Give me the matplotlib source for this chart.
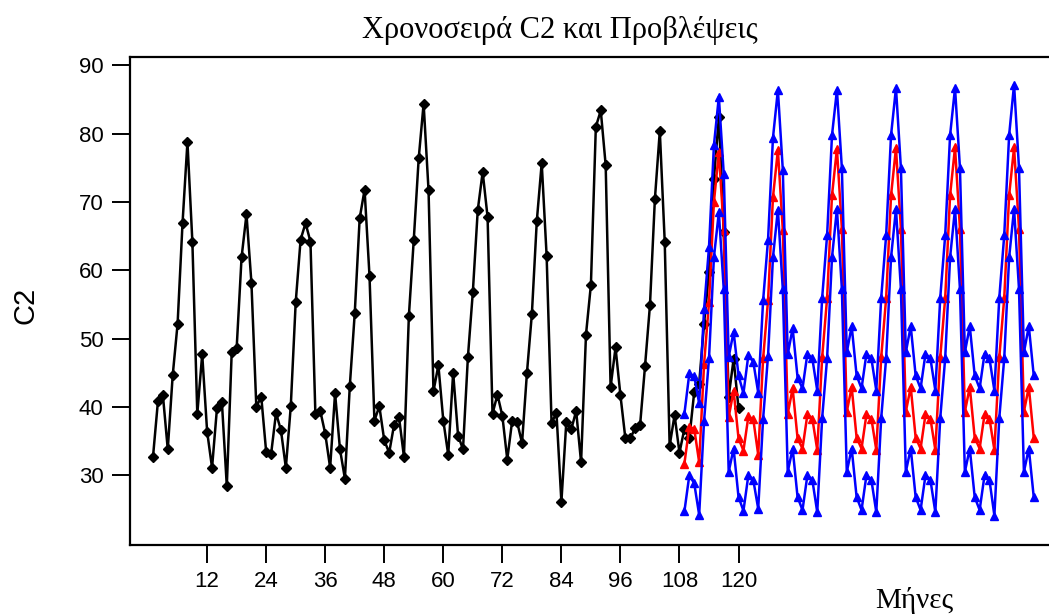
import matplotlib
matplotlib.use("Agg")
import matplotlib.pyplot as plt

# observed series C2, months 1..120
c2 = [32.7, 40.8, 41.8, 33.8, 44.6, 52.2, 66.9, 78.8, 64.2, 39.0, 47.7, 36.4,
      31.1, 39.8, 40.7, 28.4, 48.1, 48.6, 61.9, 68.2, 58.2, 40.0, 41.5, 33.4,
      33.1, 39.1, 36.6, 31.1, 40.1, 55.3, 64.5, 66.9, 64.2, 39.0, 39.4, 36.1,
      31.1, 42.0, 33.8, 29.5, 43.1, 53.7, 67.6, 71.8, 59.2, 38.0, 40.1, 35.1,
      33.3, 37.4, 38.5, 32.7, 53.3, 64.5, 76.4, 84.4, 71.7, 42.3, 46.1, 38.0,
      33.0, 45.0, 35.8, 33.8, 47.3, 56.8, 68.8, 74.4, 67.8, 39.0, 41.8, 38.7,
      32.3, 38.0, 37.8, 34.7, 45.0, 53.6, 67.2, 75.7, 62.1, 37.7, 39.1, 26.1,
      37.8, 36.7, 39.4, 31.9, 50.6, 57.9, 81.0, 83.4, 75.4, 42.9, 48.7, 41.7,
      35.4, 35.4, 36.9, 37.4, 46.0, 54.9, 70.4, 80.4, 64.2, 34.3, 38.8, 33.3,
      36.8, 35.4, 42.2, 43.4, 52.2, 59.8, 73.4, 82.4, 65.6, 41.5, 47.0, 39.8]
months = list(range(1, len(c2) + 1))

# forecasts with lower / upper limits, months 109..180
fc = [31.7, 37.1, 36.8, 31.9, 46.3, 55.3, 70.0, 77.3, 65.9, 38.5, 42.4, 35.4,
      33.6, 38.6, 38.2, 33.0, 47.1, 55.6, 70.7, 77.6, 65.9, 39.0, 42.7, 35.4,
      33.9, 38.9, 38.3, 33.7, 47.3, 55.9, 71.0, 77.8, 66.1, 39.3, 42.9, 35.5,
      33.9, 38.9, 38.3, 33.7, 47.3, 55.9, 71.0, 77.9, 66.1, 39.3, 42.9, 35.5,
      33.9, 38.9, 38.3, 33.7, 47.3, 55.9, 71.0, 78.0, 66.1, 39.3, 42.9, 35.5,
      33.9, 38.9, 38.3, 33.7, 47.3, 55.9, 71.0, 78.0, 66.1, 39.3, 42.9, 35.5]
upper = [39.0, 44.9, 44.5, 40.5, 54.3, 63.4, 78.3, 85.4, 74.1, 47.3, 51.0, 44.6,
         42.0, 47.6, 46.6, 42.1, 55.6, 64.5, 79.4, 86.4, 74.7, 47.7, 51.5, 44.3,
         42.7, 47.8, 47.1, 42.4, 56.0, 65.1, 79.8, 86.4, 75.0, 48.0, 51.8, 44.6,
         42.7, 47.8, 47.1, 42.4, 56.0, 65.1, 79.8, 86.7, 75.0, 48.0, 51.8, 44.6,
         42.7, 47.8, 47.1, 42.4, 56.0, 65.1, 79.8, 86.7, 75.0, 48.0, 51.8, 44.6,
         42.7, 47.8, 47.1, 42.4, 56.0, 65.1, 79.8, 87.2, 75.0, 48.0, 51.8, 44.6]
lower = [24.7, 30.0, 28.8, 24.2, 38.0, 47.1, 61.9, 68.5, 57.2, 30.5, 33.9, 26.8,
         24.8, 30.0, 29.3, 25.1, 38.3, 47.5, 61.9, 68.9, 57.2, 30.5, 33.9, 26.8,
         24.9, 30.0, 29.3, 24.6, 38.4, 47.1, 61.9, 69.0, 57.3, 30.5, 33.9, 26.8,
         24.9, 30.0, 29.3, 24.6, 38.4, 47.1, 61.9, 69.0, 57.3, 30.5, 33.9, 26.8,
         24.9, 30.0, 29.3, 24.6, 38.4, 47.1, 61.9, 69.0, 57.3, 30.5, 33.9, 26.8,
         24.9, 30.0, 29.3, 24.1, 38.4, 47.1, 61.9, 69.0, 57.3, 30.5, 33.9, 26.8]
fmonths = list(range(109, 109 + len(fc)))

xticks = [12, 24, 36, 48, 60, 72, 84, 96, 108, 120]
yticks = [30, 40, 50, 60, 70, 80, 90]

fig = plt.figure(figsize=(10.49, 6.15), dpi=100)
ax = fig.add_axes([0.124, 0.114, 0.876, 0.793])

ax.plot(months, c2, color='black', lw=1.8, marker='D', ms=4.8)
ax.plot(fmonths, fc, color='red', lw=1.8, marker='^', ms=6)
ax.plot(fmonths, upper, color='blue', lw=1.8, marker='^', ms=6)
ax.plot(fmonths, lower, color='blue', lw=1.8, marker='^', ms=6)

ax.set_xlim(-3.66, 183.1)
ax.set_ylim(19.8, 91.2)
ax.set_xticks(xticks)
ax.set_yticks(yticks)
ax.spines['right'].set_visible(False)
for s in ['left', 'bottom', 'top']:
    ax.spines[s].set_linewidth(1.6)
ax.tick_params(axis='both', direction='out', length=13, width=1.4, pad=6)
for lab in ax.get_xticklabels():
    lab.set_family(['Liberation Sans Narrow', 'Liberation Sans'])
    lab.set_fontsize(16)
for lab in ax.get_yticklabels():
    lab.set_family('Liberation Sans')
    lab.set_fontsize(16)

fig.text(0.534, 0.951, 'Χρονοσειρά C2 και Προβλέψεις', family='Liberation Serif',
         fontsize=22, ha='center', va='center')
fig.text(0.872, 0.024, 'Μήνες', family='Liberation Serif',
         fontsize=21, ha='center', va='center')
fig.text(0.024, 0.504, 'C2', family='Liberation Sans', fontsize=21,
         rotation=90, ha='center', va='center')

fig.savefig('out.png', dpi=100)
